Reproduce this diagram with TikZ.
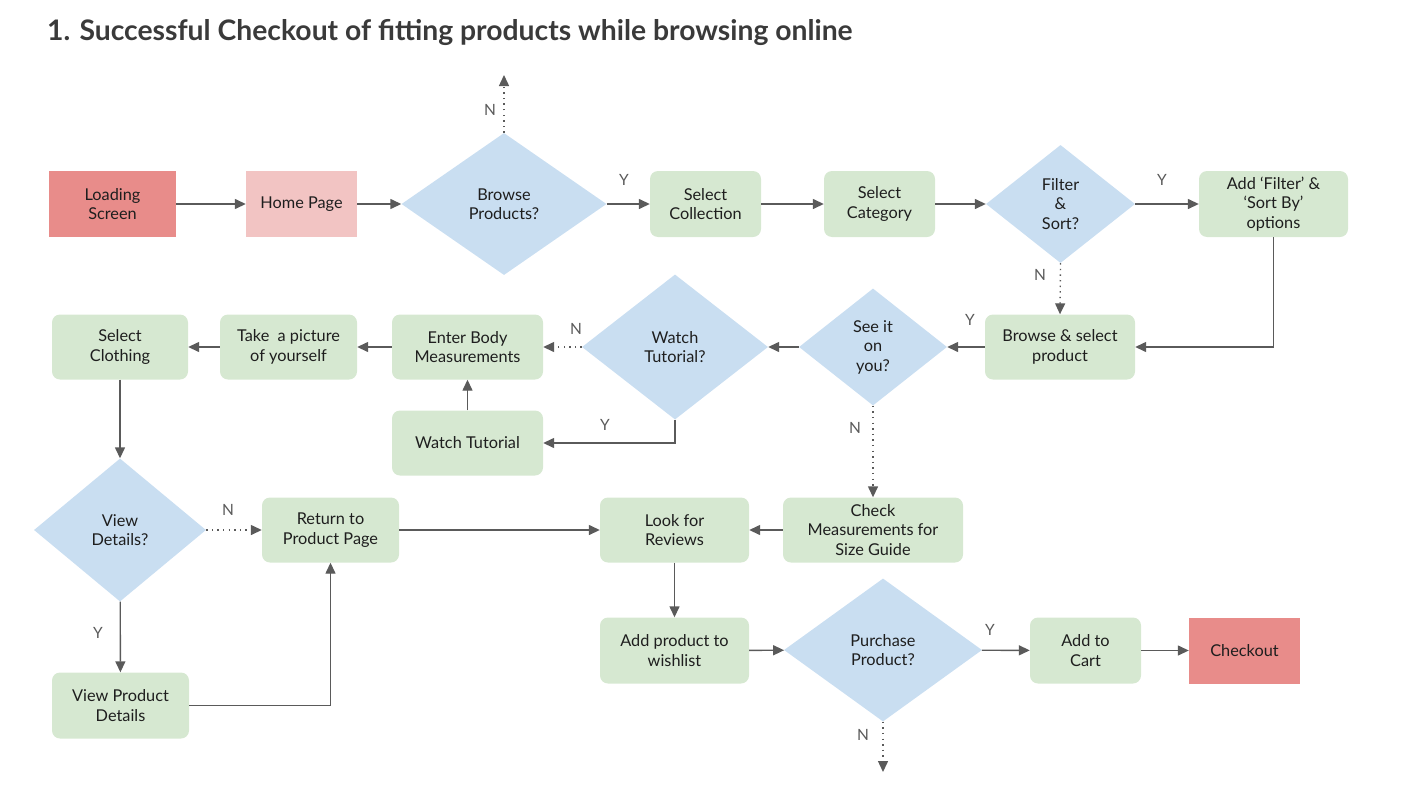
\documentclass[tikz,border=0pt]{standalone}
\usepackage{fontspec}
\setmainfont{Lato}
\usetikzlibrary{shapes.geometric,arrows.meta}
\definecolor{redA}{HTML}{E88C8A}
\definecolor{redB}{HTML}{F2C4C3}
\definecolor{greenA}{HTML}{D6E8D1}
\definecolor{blueA}{HTML}{C9DEF1}
\definecolor{lineC}{HTML}{5A5A5A}
\definecolor{txtC}{HTML}{1E1E1E}
\definecolor{titleC}{HTML}{3A3A3A}
\begin{document}
\begin{tikzpicture}[x=1pt,y=-1pt,
  every node/.style={font=\fontsize{16.3}{19.5}\selectfont, text=txtC, align=center, inner sep=0pt},
  gbox/.style={rectangle, rounded corners=8pt, fill=greenA, minimum height=66pt},
  rbox/.style={rectangle, fill=redA, minimum height=66pt},
  pbox/.style={rectangle, fill=redB, minimum height=66pt},
  dia/.style={diamond, aspect=1, fill=blueA},
  conn/.style={draw=lineC, line width=1.4pt, -{Triangle[length=11pt,width=10pt]}},
  dconn/.style={conn, dash pattern=on 1.4pt off 4.2pt},
  lbl/.style={text=lineC, font=\fontsize{15.5}{18}\selectfont}
]
\useasboundingbox (0,0) rectangle (1404,787);
\node[anchor=base west, font=\fontsize{28.3}{33}\bfseries\selectfont, text=titleC] (title) at (47,40) {1. Successful Checkout of fitting products while browsing online};

% row 1
\node[rbox, minimum width=127pt] (load) at (112.5,204) {Loading\\Screen};
\node[pbox, minimum width=111pt] (home) at (301.5,204) {Home Page};
\node[dia, minimum width=205pt, minimum height=142pt] (browse) at (504,204) {Browse\\Products?};
\node[gbox, minimum width=111pt] (coll) at (705.5,204) {Select\\Collection};
\node[gbox, minimum width=111pt] (cat) at (879.5,204) {Select\\Category};
\node[dia, minimum width=149pt, minimum height=118pt] (filter) at (1060.5,204) {Filter\\\&\\Sort?};
\node[gbox, minimum width=149pt] (addf) at (1273.5,204) {Add `Filter' \&\\`Sort By'\\options};

% row 2
\node[gbox, minimum width=150pt, minimum height=65pt] (bsel) at (1060,347) {Browse \& select\\product};
\node[dia, minimum width=148pt, minimum height=117pt] (seeit) at (873,347) {See it\\on\\you?};
\node[dia, minimum width=186pt, minimum height=145pt] (watchq) at (675,347) {Watch\\Tutorial?};
\node[gbox, minimum width=151pt, minimum height=65pt] (enter) at (467.5,347) {Enter Body\\Measurements};
\node[gbox, minimum width=137pt, minimum height=65pt] (pic) at (288.5,347) {Take\ \ a picture\\of yourself};
\node[gbox, minimum width=136pt, minimum height=65pt] (cloth) at (120,347) {Select\\Clothing};
\node[gbox, minimum width=151pt, minimum height=65pt] (wtut) at (467.5,443) {Watch Tutorial};

% row 3
\node[dia, minimum width=172pt, minimum height=143pt] (viewq) at (120,530) {View\\Details?};
\node[gbox, minimum width=137pt, minimum height=65pt] (ret) at (330.5,530) {Return to\\Product Page};
\node[gbox, minimum width=149pt, minimum height=65pt] (look) at (674.5,530) {Look for\\Reviews};
\node[gbox, minimum width=180pt, minimum height=65pt] (check) at (873,530) {Check\\Measurements for\\Size Guide};

% row 4
\node[gbox, minimum width=137pt] (vpd) at (120.5,705.5) {View Product\\Details};
\node[gbox, minimum width=149pt] (wish) at (674.5,650.5) {Add product to\\wishlist};
\node[dia, minimum width=198pt, minimum height=143pt] (purch) at (883,650) {Purchase\\Product?};
\node[gbox, minimum width=111pt] (cart) at (1085.5,650.5) {Add to\\Cart};
\node[rbox, minimum width=111pt] (checkout) at (1244.5,650.5) {Checkout};

\coordinate (bup) at (504,75);
\coordinate (pdown) at (883,772);

% connectors
\draw[conn] (load) -- (home);
\draw[conn] (home) -- (browse);
\draw[dconn] (browse.north) -- (bup);
\draw[conn] (browse) -- (coll);
\draw[conn] (coll) -- (cat);
\draw[conn] (cat) -- (filter);
\draw[conn] (filter) -- (addf);
\draw[dconn] (filter.south) -- (bsel.north);
\draw[conn] (addf.south) |- (bsel.east);
\draw[conn] (bsel) -- (seeit);
\draw[conn] (seeit) -- (watchq);
\draw[dconn] (watchq.west) -- (enter.east);
\draw[conn] (watchq.south) |- (wtut.east);
\draw[conn] (wtut) -- (enter);
\draw[conn] (enter) -- (pic);
\draw[conn] (pic) -- (cloth);
\draw[conn] (cloth) -- (viewq);
\draw[dconn] (viewq.east) -- (ret.west);
\draw[conn] (viewq) -- (vpd);
\draw[conn] (vpd.east) -| (ret.south);
\draw[conn] (ret) -- (look);
\draw[dconn] (seeit.south) -- (check.north);
\draw[conn] (check) -- (look);
\draw[conn] (look) -- (wish);
\draw[conn] (wish) -- (purch);
\draw[conn] (purch) -- (cart);
\draw[conn] (cart) -- (checkout);
\draw[dconn] (purch.south) -- (pdown);

% labels
\node[lbl] (l1) at (490,110) {N};
\node[lbl] (l2) at (624,180) {Y};
\node[lbl] (l3) at (1162,180) {Y};
\node[lbl] (l4) at (1040,275) {N};
\node[lbl] (l5) at (970,320) {Y};
\node[lbl] (l6) at (576,329) {N};
\node[lbl] (l7) at (605,425) {Y};
\node[lbl] (l8) at (228,510) {N};
\node[lbl] (l9) at (98,633) {Y};
\node[lbl] (l10) at (855,428) {N};
\node[lbl] (l11) at (990,630) {Y};
\node[lbl] (l12) at (863,735) {N};
\end{tikzpicture}
\end{document}
